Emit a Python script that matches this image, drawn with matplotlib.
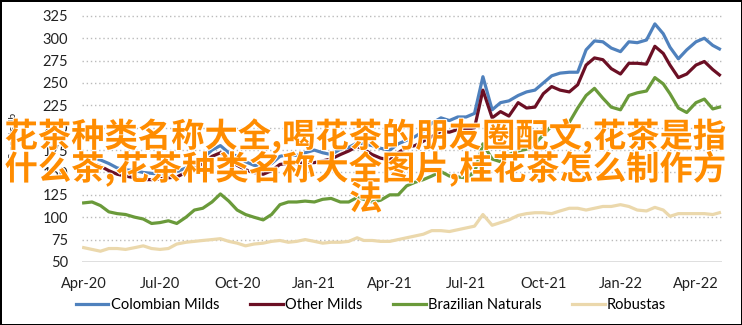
import numpy as np
import pandas as pd
import matplotlib
matplotlib.use('Agg')
import matplotlib.pyplot as plt
import matplotlib.dates as mdates
import matplotlib.patheffects as pe

# sample dates (1st, 11th, 21st of each month) + last day shown
days = []
for m in pd.date_range('2020-04-01', '2022-04-01', freq='MS'):
    for d in (0, 10, 20):
        days.append(m + pd.Timedelta(days=d))
days.append(pd.Timestamp('2022-04-29'))
dates = pd.DatetimeIndex(days)

colombian = [168, 166, 164, 160, 155, 153, 152, 150, 149, 148, 150, 151,
             155, 160, 166, 175, 180, 172, 168, 162, 158, 157, 160, 168,
             170, 169, 172, 175, 172, 170, 176, 178, 183, 182, 180, 177,
             175, 182, 186, 190, 196, 205, 211, 208, 212, 212, 216, 257,
             220, 228, 230, 236, 240, 242, 250, 258, 261, 262, 262, 287,
             297, 296, 289, 285, 296, 295, 298, 316, 305, 290, 277, 287,
             296, 300, 292, 288]
other_milds = [162, 160, 157, 152, 148, 146, 144, 142, 142, 143, 144, 145,
               150, 155, 160, 168, 172, 165, 158, 153, 150, 148, 152, 159,
               160, 160, 161, 161, 163, 165, 170, 174, 179, 176, 170, 166,
               164, 172, 178, 180, 185, 190, 196, 195, 198, 198, 200, 242,
               211, 218, 213, 228, 222, 223, 238, 246, 242, 240, 248, 270,
               278, 276, 266, 260, 272, 272, 271, 291, 283, 270, 256, 260,
               270, 274, 265, 259]
brazilian = [116, 117, 113, 106, 104, 103, 100, 98, 93, 94, 96, 93,
             100, 108, 110, 117, 126, 118, 108, 103, 100, 97, 103, 114,
             117, 117, 118, 117, 120, 121, 117, 117, 122, 120, 117, 119,
             125, 125, 135, 139, 142, 146, 151, 146, 145, 144, 150, 182,
             165, 162, 170, 174, 176, 182, 192, 202, 200, 206, 222, 236,
             244, 233, 223, 220, 236, 239, 241, 256, 249, 238, 222, 217,
             228, 232, 221, 223]
robustas = [66, 64, 62, 65, 65, 64, 66, 68, 65, 64, 65, 70,
            72, 73, 74, 75, 76, 73, 71, 68, 70, 71, 73, 74,
            72, 73, 75, 73, 71, 72, 72, 73, 77, 74, 74, 73,
            73, 75, 77, 79, 81, 85, 85, 84, 86, 88, 90, 103,
            91, 94, 97, 102, 104, 105, 105, 104, 107, 110, 110, 108,
            110, 112, 112, 114, 112, 108, 107, 111, 108, 101, 104, 104,
            104, 104, 103, 105]

series = [('Colombian Milds', colombian, '#4F81BD'),
          ('Other Milds', other_milds, '#6B0F24'),
          ('Brazilian Naturals', brazilian, '#6A9A3A'),
          ('Robustas', robustas, '#EBD8AC')]

yticks = np.arange(50, 326, 25)

plt.rcParams['font.family'] = ['Lato', 'DejaVu Sans']

fig = plt.figure(figsize=(7.42, 3.25), dpi=100, facecolor='w',
                 edgecolor='k', linewidth=2)
ax = fig.add_axes([0.1105, 0.194, 0.8625, 0.771])

for name, vals, col in series:
    ax.plot(dates, vals, color=col, linewidth=2.3, label=name)

ax.set_ylim(50, 330)
ax.set_xlim(pd.Timestamp('2020-03-30'), pd.Timestamp('2022-05-02'))
ax.set_yticks(yticks)
ax.xaxis.set_major_locator(mdates.MonthLocator(bymonth=[1, 4, 7, 10]))
ax.xaxis.set_major_formatter(mdates.DateFormatter('%b-%y'))
ax.tick_params(length=0, labelsize=10.5, colors='#222222')
ax.tick_params(axis='x', pad=11)
ax.tick_params(axis='y', pad=10)

for v in yticks[1:]:
    ax.axhline(v, color='#BBBBBB', linewidth=1, linestyle=(0, (1, 2)), zorder=0)
ax.axhline(50, color='#D9D9D9', linewidth=1.2, zorder=0)
for s in ax.spines.values():
    s.set_visible(False)

fig.text(0.017, 0.57, 'US cents/lb', rotation=90, fontsize=7.5,
         ha='center', va='center', color='#222222')

fig.legend(loc='lower center', bbox_to_anchor=(0.5, 0.0), ncol=4, frameon=False,
           fontsize=10.5, handlelength=2.25, handletextpad=0.15, columnspacing=2.1)

fig.text(0.493, 0.485,
         '花茶种类名称大全,喝花茶的朋友圈配文,花茶是指\n'
         '什么茶,花茶种类名称大全图片,桂花茶怎么制作方\n法',
         family=['Noto Sans CJK SC', 'DejaVu Sans'], fontsize=24,
         color='#FF8C00', ha='center', va='center', linespacing=0.88,
         weight='bold',
         path_effects=[pe.withStroke(linewidth=1.5, foreground='white')])

fig.savefig('out.png', dpi=100, facecolor='w', edgecolor=fig.get_edgecolor())
